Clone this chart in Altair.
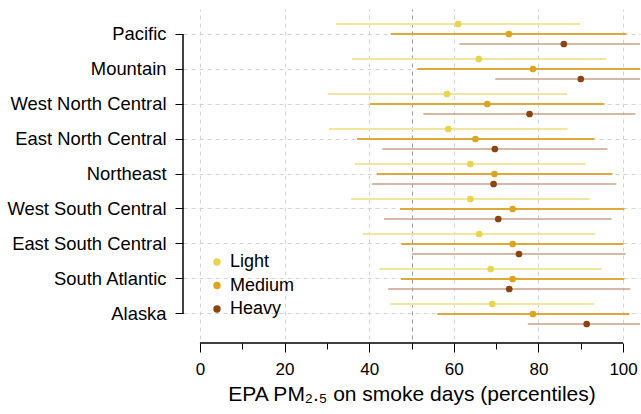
import altair as alt
import pandas as pd

regions = ["Pacific", "Mountain", "West North Central", "East North Central",
           "Northeast", "West South Central", "East South Central",
           "South Atlantic", "Alaska"]
series = ["Light", "Medium", "Heavy"]

light_mid = [61.0, 65.9, 58.4, 58.7, 63.9, 63.9, 66.0, 68.7, 69.1]
light_lo = [32.2, 36.0, 30.2, 30.5, 36.6, 35.7, 38.5, 42.4, 45.0]
light_hi = [89.9, 96.0, 86.8, 86.9, 91.1, 92.1, 93.4, 95.0, 93.1]

medium_mid = [73.0, 78.7, 67.9, 65.1, 69.6, 73.9, 73.9, 73.9, 78.7]
medium_lo = [45.1, 51.4, 40.2, 37.1, 41.8, 47.3, 47.6, 47.5, 56.1]
medium_hi = [100.8, 106.0, 95.6, 93.2, 97.5, 100.3, 100.1, 100.3, 101.5]

heavy_mid = [86.0, 90.0, 77.9, 69.7, 69.4, 70.5, 75.4, 73.1, 91.4]
heavy_lo = [61.3, 69.8, 52.8, 43.1, 40.6, 43.5, 50.1, 44.5, 77.5]
heavy_hi = [108.0, 108.0, 102.9, 96.3, 98.4, 97.3, 100.6, 101.7, 106.0]

point_colors = ["#E8D44D", "#DAA520", "#8B4513"]
line_colors = ["#F0E6A0", "#DDAA3A", "#C8A18A"]

mids = [light_mid, medium_mid, heavy_mid]
los = [light_lo, medium_lo, heavy_lo]
his = [light_hi, medium_hi, heavy_hi]

rows = []
for s, m, l, h in zip(series, mids, los, his):
    for r, mv, lv, hv in zip(regions, m, l, h):
        rows.append({"region": r, "series": s, "line_series": s,
                     "mid": mv, "lo": lv, "hi": hv})
df = pd.DataFrame(rows)

W, H = 457, 330
FONT = "Liberation Sans"
XOFF = 4

xscale = alt.Scale(domain=[-4, 104], nice=False, zero=False)
yscale = alt.Scale(domain=regions, paddingInner=0, paddingOuter=0.2143)
yoff = alt.YOffset("series:N", scale=alt.Scale(type="point", domain=series, padding=0.75))

x_axis = alt.Axis(
    values=list(range(0, 101, 10)),
    labelExpr="datum.value % 20 === 0 ? datum.label : ''",
    title="EPA PM₂.₅ on smoke days (percentiles)",
    offset=XOFF,
    domain=False,
    tickColor="black",
    tickSize={"condition": {"test": "datum.value % 20 === 0", "value": 9}, "value": 6},
    labelFontSize=17, labelFont=FONT, labelColor="black", labelPadding=9,
    titleFontSize=21, titleFont=FONT, titleColor="black", titleFontWeight="normal",
    titlePadding=6,
    grid=True,
    gridDash=[4, 4],
    gridColor={"condition": {"test": "datum.value === 50", "value": "#9a9a9a"}, "value": "#d2d2d2"},
    gridOpacity={"condition": {"test": "datum.value % 20 === 0 || datum.value === 50", "value": 1}, "value": 0},
)

y_axis = alt.Axis(
    title=None,
    domain=False,
    bandPosition=0.5,
    tickColor="black", tickSize=8,
    labelFontSize=18.4, labelFont=FONT, labelColor="black", labelPadding=9,
    grid=True, gridDash=[4, 4], gridColor="#d2d2d2",
)

base = alt.Chart(df)

rules = base.mark_rule(clip=True).encode(
    x=alt.X("lo:Q", scale=xscale, axis=x_axis),
    x2="hi:Q",
    y=alt.Y("region:N", scale=yscale, axis=y_axis, sort=regions),
    yOffset=yoff,
    stroke=alt.Stroke("line_series:N", sort=series,
                      scale=alt.Scale(range=line_colors), legend=None),
    strokeWidth=alt.StrokeWidth("line_series:N", sort=series,
                                scale=alt.Scale(range=[2, 1.6, 2]), legend=None),
)

points = base.mark_point(filled=True, opacity=1, shape="circle", size=45).encode(
    x=alt.X("mid:Q", scale=xscale, axis=x_axis),
    y=alt.Y("region:N", scale=yscale, sort=regions, axis=y_axis),
    yOffset=yoff,
    color=alt.Color("series:N", scale=alt.Scale(domain=series, range=point_colors),
                    legend=alt.Legend(title=None, orient="none", legendX=25, legendY=244,
                                      labelFontSize=18, labelFont=FONT, labelColor="black",
                                      symbolSize=55, symbolType="circle", labelOffset=4,
                                      rowPadding=5.5, padding=0)),
)

yline_df = pd.DataFrame({"a": [regions[0]], "b": [regions[-1]]})
yline = alt.Chart(yline_df).mark_rule(color="black", strokeWidth=1.5).encode(
    y=alt.Y("a:N", scale=yscale, sort=regions, axis=y_axis),
    y2="b:N",
    x=alt.value(0),
)

xline_df = pd.DataFrame({"a": [0], "b": [100]})
xline = alt.Chart(xline_df).mark_rule(color="black", strokeWidth=1.5).encode(
    x=alt.X("a:Q", scale=xscale, axis=x_axis),
    x2="b:Q",
    y=alt.value(H + XOFF),
)

chart = alt.layer(rules, points, yline, xline).properties(
    width=W, height=H,
    autosize=alt.AutoSizeParams(type="none"),
    padding={"left": 183, "top": 9, "right": 1, "bottom": 75},
    background="white",
).configure_view(strokeWidth=0)

chart.save("out.html", embed_options={"renderer": "svg", "actions": False})
